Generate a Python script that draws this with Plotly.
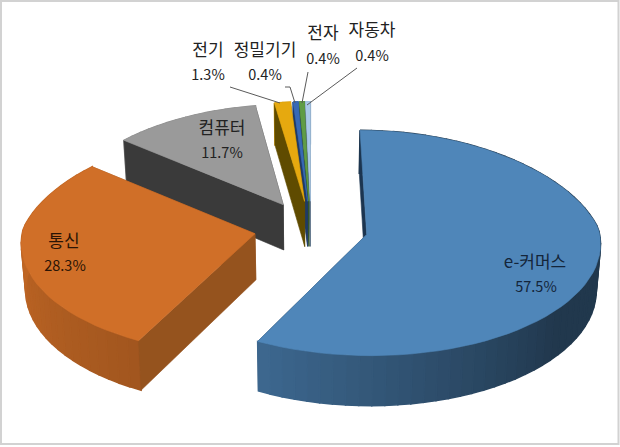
import numpy as np
import plotly.graph_objects as go

# --- chart data ---
categories = ["e-커머스", "통신", "컴퓨터", "전기", "정밀기기", "전자", "자동차"]
values = [57.5, 28.3, 11.7, 1.3, 0.4, 0.4, 0.4]

# --- styles ---
top_colors = ["#4f86b9", "#d06f28", "#9a9a9a", "#e6a90f", "#3869b5", "#5f9c46", "#a9c9e8"]
face_colors = ["#1c3550", "#95531e", "#3a3a3a", "#5f4b00", "#1f3a66", "#33552a", "#5a7086"]
name_pos = [(535, 264), (64, 243), (222, 130), (208, 52), (265, 52), (323, 35), (372, 32)]
pct_pos = [(536, 288), (65, 267), (222, 154), (208, 76), (265, 76), (323, 60), (372, 57)]
text_colors = ["#14253a", "#2a1405", "#222222", "#222222", "#222222", "#222222", "#222222"]
leaders = [
    ((230, 87), (280, 103)),
    ((285, 87), (290, 87), (295, 103)),
    ((308, 72), (302, 103)),
    ((357, 68), (307, 105)),
]
# --- projection of the exploded pie ---
CX, CY, RX, RY = 311.0, 228.0, 232.0, 111.0
EXPLODE, DEPTH, LOWER_SCALE = 0.246, 46.0, 0.985


def project(u, v, lower=False):
    u, v = np.asarray(u, float), np.asarray(v, float)
    kx = np.where(v < 0, 0.14, 0.07)
    sx = 1 / (1 - kx * v)
    sy = 1 / (1 - 0.076 * v)
    x = CX + RX * u * sx
    y = CY + RY * v * sy
    if lower:
        x = CX + (x - CX) * LOWER_SCALE
        y = y + DEPTH * sy
    return x, y


def shade(hex_color, f):
    r, g, b = [int(hex_color[i:i + 2], 16) for i in (1, 3, 5)]
    return f"rgb({int(r * f)},{int(g * f)},{int(b * f)})"


def wall_factor(deg):
    d = deg % 360
    return float(np.interp(d, [0, 60, 130, 207, 270, 360], [0.42, 0.42, 0.42, 0.78, 0.92, 0.92]))


fig = go.Figure()


def poly(xs, ys, color, lw=0.6):
    fig.add_trace(go.Scatter(
        x=list(xs), y=list(ys), mode="lines", fill="toself", fillcolor=color,
        line=dict(color=color, width=lw), hoverinfo="skip", showlegend=False))


# angular ranges follow from the values
total = sum(values)
edges = np.cumsum([0.0] + values) / total * 360.0
slices = []
for i, cat in enumerate(categories):
    a0, a1 = edges[i], edges[i + 1]
    mid = np.radians((a0 + a1) / 2)
    ox, oy = EXPLODE * np.sin(mid), -EXPLODE * np.cos(mid)
    slices.append((i, a0, a1, ox, oy))

# painter's order: back slivers, then computer, telecom, e-commerce
for i in [6, 5, 4, 3, 2, 1, 0]:
    _, a0, a1, ox, oy = slices[i]
    th = np.radians(np.linspace(a0, a1, max(int((a1 - a0) / 3), 2) + 1))
    u, v = ox + np.sin(th), oy - np.cos(th)

    def radial(k):
        x1, y1 = project([ox, u[k]], [oy, v[k]])
        x2, y2 = project([ox, u[k]], [oy, v[k]], lower=True)
        poly([x1[0], x1[1], x2[1], x2[0], x1[0]], [y1[0], y1[1], y2[1], y2[0], y1[0]], face_colors[i])

    # side faces turned away from the viewer go under the outer wall, the others over it
    front_start = np.cos(np.radians(a0 - 90)) <= 0.001
    front_end = np.cos(np.radians(a1 + 90)) <= 0.001
    if not front_start:
        radial(0)
    if not front_end:
        radial(-1)
    # outer wall, one band per step so the shading can follow the angle
    xt, yt = project(u, v)
    xb, yb = project(u, v, lower=True)
    for j in range(len(th) - 1):
        c = shade(top_colors[i], wall_factor(np.degrees((th[j] + th[j + 1]) / 2)))
        poly([xt[j], xt[j + 1], xb[j + 1], xb[j], xt[j]],
             [yt[j], yt[j + 1], yb[j + 1], yb[j], yt[j]], c, lw=1.5)
    if front_start:
        radial(0)
    if front_end:
        radial(-1)
    # top surface
    ax, ay = project([ox], [oy])
    poly(np.r_[ax, xt, ax], np.r_[ay, yt, ay], top_colors[i])

# leader lines
for pts in leaders:
    fig.add_trace(go.Scatter(
        x=[p[0] for p in pts], y=[p[1] for p in pts], mode="lines",
        line=dict(color="#5a5a5a", width=1), hoverinfo="skip", showlegend=False))

# labels
FONT = "Noto Sans CJK KR"
fig.add_trace(go.Scatter(
    x=[p[0] for p in name_pos], y=[p[1] for p in name_pos], text=categories, mode="text",
    textposition="middle center", textfont=dict(family=FONT, size=17, color=text_colors),
    hoverinfo="skip", showlegend=False))
fig.add_trace(go.Scatter(
    x=[p[0] for p in pct_pos], y=[p[1] for p in pct_pos], text=[f"{v:.1f}%" for v in values],
    mode="text", textposition="middle center",
    textfont=dict(family=FONT, size=14.5, color=text_colors),
    hoverinfo="skip", showlegend=False))

fig.update_layout(
    width=620, height=447, margin=dict(l=0, r=0, t=0, b=0),
    paper_bgcolor="white", plot_bgcolor="white", showlegend=False,
    xaxis=dict(range=[0, 620], visible=False, fixedrange=True),
    yaxis=dict(range=[447, 0], visible=False, fixedrange=True),
    shapes=[dict(type="rect", xref="x", yref="y", x0=1, x1=618.5, y0=1, y1=444,
                 line=dict(color="#d2d2d2", width=2), fillcolor="rgba(0,0,0,0)", layer="above")],
)
fig.write_html("out.html", config={"displayModeBar": False},
               post_script="document.body.style.margin='0';document.documentElement.style.overflow='hidden';")
